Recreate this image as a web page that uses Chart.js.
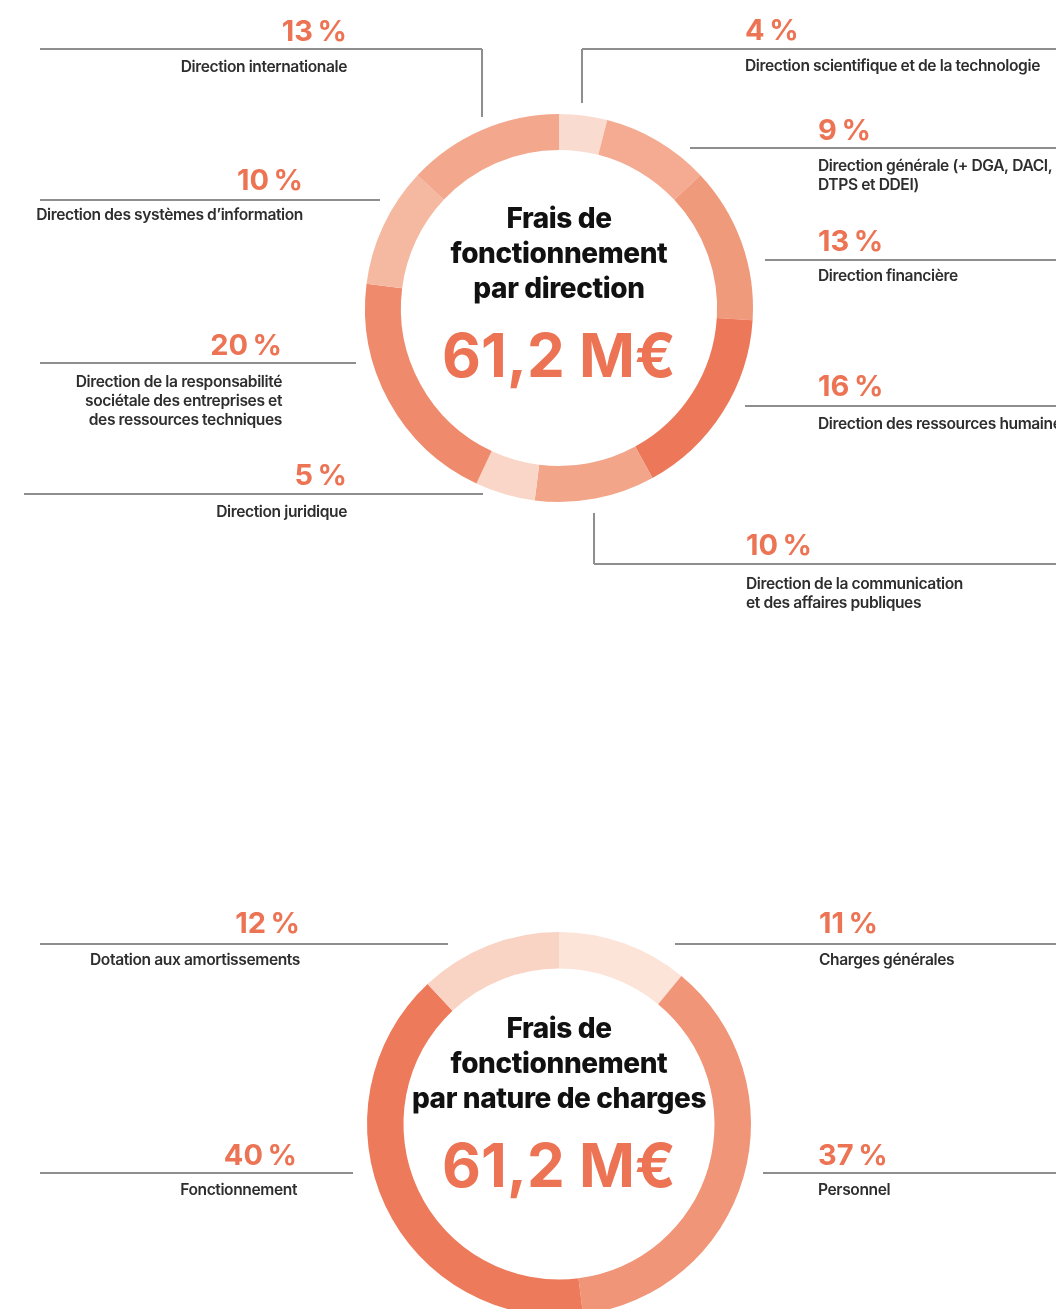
<!DOCTYPE html>
<html>
<head>
<meta charset="utf-8">
<script src="https://cdn.jsdelivr.net/npm/chart.js@4.4.1/dist/chart.umd.min.js"></script>
<style>
  html, body { margin: 0; padding: 0; background: #fff; width: 1056px; height: 1309px; overflow: hidden; }
  .wrap { position: absolute; left: 0; width: 1056px; }
  #wrap1 { top: 0; height: 650px; }
  #wrap2 { top: 650px; height: 720px; }
</style>
</head>
<body>
<div class="wrap" id="wrap1"><canvas id="chartDirection"></canvas></div>
<div class="wrap" id="wrap2"><canvas id="chartNature"></canvas></div>
<script>
// data: frais de fonctionnement, clockwise from 12 o'clock
const directionLabels = [
  'Direction scientifique et de la technologie',
  ['Direction générale (+ DGA, DACI,', 'DTPS et DDEI)'],
  'Direction financière',
  'Direction des ressources humaines',
  ['Direction de la communication', 'et des affaires publiques'],
  'Direction juridique',
  ['Direction de la responsabilité', 'sociétale des entreprises et', 'des ressources techniques'],
  'Direction des systèmes d\u2019information',
  'Direction internationale'
]
const directionShares = [4, 9, 13, 16, 10, 5, 20, 10, 13]
const directionColors = ['#fadbcf', '#f4ab92', '#f09a7c', '#ec7859', '#f2a589', '#f9d6c8', '#ef8b6c', '#f5b8a1', '#f3a88e']

const natureLabels = ['Charges générales', 'Personnel', 'Fonctionnement', 'Dotation aux amortissements']
const natureShares = [11, 37, 40, 12]
const natureColors = ['#fce4d9', '#f09577', '#ed7b5b', '#f9d3c3']

const totalAmount = '61,2 M€'
const titleDirection = ['Frais de', 'fonctionnement', 'par direction']
const titleNature = ['Frais de', 'fonctionnement', 'par nature de charges']

const ORANGE = '#ec7454'
const LINE = '#8e8e8e'
const TEXT = '#2e2e2e'

// callout layout, page coordinates (same order as the data)
const directionCallouts = [
  { side: 'r', x: 745, pctY: 40, labelY: 71, lineY: 49, x1: 582, x2: 1056, elbow: [49, 103] },
  { side: 'r', x: 818, pctY: 140, labelY: 171, lineY: 148, x1: 690, x2: 1056 },
  { side: 'r', x: 818, pctY: 251, labelY: 281, lineY: 260, x1: 765, x2: 1056 },
  { side: 'r', x: 818, pctY: 396, labelY: 429, lineY: 406, x1: 745, x2: 1056 },
  { side: 'r', x: 746, pctY: 555, labelY: 589, lineY: 564, x1: 594, x2: 1056, elbow: [513, 564] },
  { side: 'l', x: 347, pctY: 485, labelY: 517, lineY: 494, x1: 24, x2: 483 },
  { side: 'l', x: 282, pctY: 355, labelY: 387, lineY: 363, x1: 40, x2: 356 },
  { side: 'l', x: 303, pctY: 190, labelY: 220, lineY: 200, x1: 40, x2: 380 },
  { side: 'l', x: 347, pctY: 41, labelY: 72, lineY: 49, x1: 40, x2: 482, elbow: [49, 117] }
]
const natureCallouts = [
  { side: 'r', x: 819, pctY: 933, labelY: 965, lineY: 944, x1: 675, x2: 1056 },
  { side: 'r', x: 818, pctY: 1165, labelY: 1195, lineY: 1173, x1: 763, x2: 1056 },
  { side: 'l', x: 297, pctY: 1165, labelY: 1195, lineY: 1173, x1: 40, x2: 353 },
  { side: 'l', x: 300, pctY: 933, labelY: 965, lineY: 944, x1: 40, x2: 448 }
]

const calloutPlugin = {
  id: 'callouts',
  afterDraw(chart, args, opts) {
    const ctx = chart.ctx
    const labels = chart.data.labels
    const values = chart.data.datasets[0].data
    const dy = opts.offsetY
    ctx.save()
    opts.items.forEach((c, i) => {
      ctx.strokeStyle = LINE
      ctx.lineWidth = 2
      ctx.beginPath()
      ctx.moveTo(c.x1, c.lineY - dy)
      ctx.lineTo(c.x2, c.lineY - dy)
      if (c.elbow) {
        const ex = c.side === 'l' ? c.x2 : c.x1
        ctx.moveTo(ex, c.elbow[0] - dy)
        ctx.lineTo(ex, c.elbow[1] - dy)
      }
      ctx.stroke()

      ctx.textAlign = c.side === 'l' ? 'right' : 'left'
      ctx.textBaseline = 'alphabetic'
      ctx.fillStyle = ORANGE
      ctx.font = '700 29px Inter'
      ctx.letterSpacing = '-0.4px'
      ctx.fillText(values[i] + '\u202f%', c.x, c.pctY - dy)

      ctx.fillStyle = TEXT
      ctx.font = '600 15.6px Inter'
      ctx.letterSpacing = '-0.4px'
      const lines = Array.isArray(labels[i]) ? labels[i] : [labels[i]]
      lines.forEach((t, k) => ctx.fillText(t, c.x, c.labelY - dy + k * 19))
    })
    ctx.restore()
  }
}

const centerPlugin = {
  id: 'centerText',
  afterDraw(chart, args, opts) {
    const ctx = chart.ctx
    const arc = chart.getDatasetMeta(0).data[0]
    const cx = arc.x
    const cy = arc.y
    ctx.save()
    ctx.textAlign = 'center'
    ctx.textBaseline = 'alphabetic'
    ctx.fillStyle = '#111'
    ctx.font = '800 28px Inter'
    ctx.letterSpacing = '-0.4px'
    opts.lines.forEach((t, k) => ctx.fillText(t, cx, cy + opts.titleY + k * 35))
    ctx.fillStyle = ORANGE
    ctx.font = '700 60px Inter'
    ctx.letterSpacing = '0px'
    ctx.fillText(opts.total, cx, cy + opts.totalY)
    ctx.restore()
  }
}

function makeDoughnut(canvasId, labels, shares, colors, cutout, padding, center, callouts, offsetY) {
  const config = {
    type: 'doughnut',
    data: {
      labels: labels,
      datasets: [{
        data: shares,
        backgroundColor: colors,
        borderWidth: 0
      }]
    },
    options: {
      responsive: true,
      maintainAspectRatio: false,
      animation: false,
      cutout: cutout,
      layout: { padding: padding },
      plugins: {
        legend: { display: false },
        tooltip: { enabled: false },
        centerText: center,
        callouts: { items: callouts, offsetY: offsetY }
      }
    },
    plugins: [centerPlugin, calloutPlugin]
  }
  return new Chart(document.getElementById(canvasId), config)
}

makeDoughnut('chartDirection', directionLabels, directionShares, directionColors, '81.5%',
  { left: 365, right: 303, top: 114, bottom: 148 },
  { lines: titleDirection, total: totalAmount, titleY: -80, totalY: 69 },
  directionCallouts, 0)

makeDoughnut('chartNature', natureLabels, natureShares, natureColors, '81%',
  { left: 367, right: 305, top: 282, bottom: 54 },
  { lines: titleNature, total: totalAmount, titleY: -86, totalY: 63 },
  natureCallouts, 650)
</script>
</body>
</html>
